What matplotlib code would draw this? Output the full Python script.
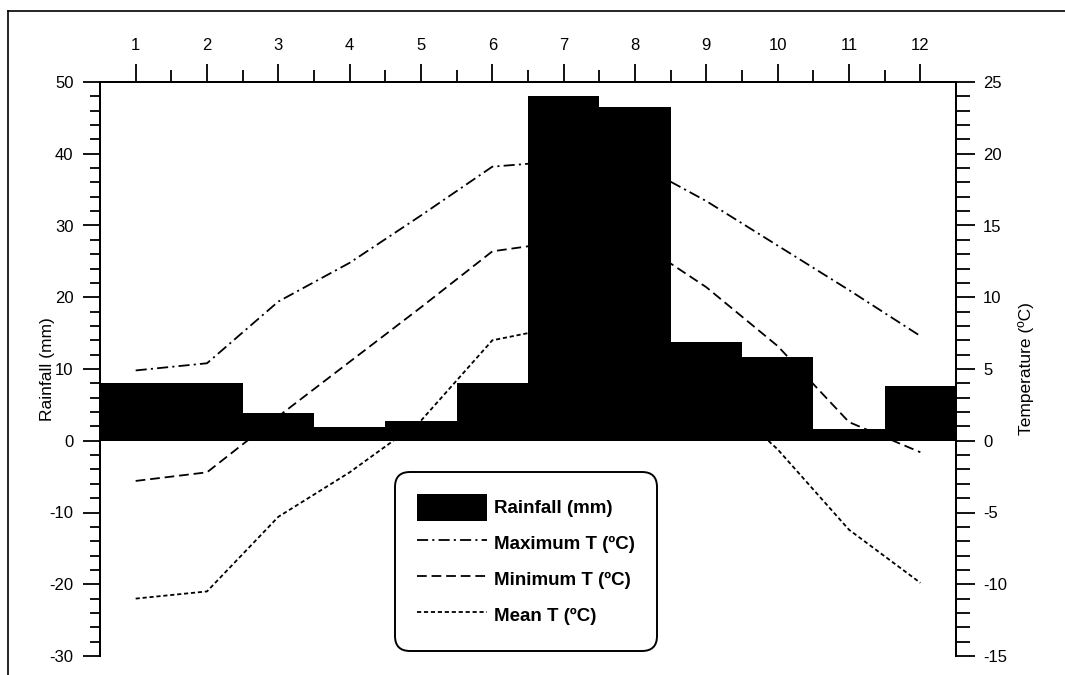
import matplotlib
matplotlib.use('Agg')
import matplotlib.pyplot as plt
from matplotlib.lines import Line2D
from matplotlib.ticker import MultipleLocator

plt.rcParams['font.family'] = ['Liberation Sans', 'DejaVu Sans']
plt.rcParams['lines.scale_dashes'] = False
plt.rcParams['axes.unicode_minus'] = False

# monthly values
months = list(range(1, 13))
rainfall = [8.0, 8.0, 3.8, 1.9, 2.8, 8.0, 48.1, 46.5, 13.8, 11.7, 1.7, 7.7]
t_max = [4.9, 5.4, 9.7, 12.4, 15.7, 19.1, 19.5, 19.4, 16.7, 13.6, 10.5, 7.3]
t_min = [-2.8, -2.2, 1.7, 5.5, 9.3, 13.2, 13.9, 14.0, 10.7, 6.6, 1.3, -0.8]
t_mean = [-11.0, -10.5, -5.3, -2.2, 1.4, 7.0, 8.0, 7.5, 4.0, -0.6, -6.2, -9.9]

W, H = 1065, 675
fig = plt.figure(figsize=(W / 100, H / 100), dpi=100)
ax = fig.add_axes([100 / W, 19 / H, 856 / W, 574 / H])

bars = ax.bar(months, rainfall, width=1.0, color='black', label='Rainfall (mm)')
ax.set_xlim(0.5, 12.5)
ax.set_ylim(-30, 50)
ax.xaxis.tick_top()
ax.set_xticks(months)
ax.set_xticks([m + 0.5 for m in months[:-1]], minor=True)
ax.yaxis.set_major_locator(MultipleLocator(10))
ax.yaxis.set_minor_locator(MultipleLocator(2))
ax.spines['bottom'].set_visible(False)
for s in ax.spines.values():
    s.set_linewidth(1.4)
ax.tick_params(axis='x', which='major', length=13, width=1.3, pad=8, labelsize=12)
ax.tick_params(axis='x', which='minor', length=9, width=1.3)
ax.tick_params(axis='y', which='major', length=12, width=1.3, pad=7, labelsize=12)
ax.tick_params(axis='y', which='minor', length=7, width=1.3)
ax.set_ylabel('Rainfall (mm)', fontsize=12.5)
ax.yaxis.set_label_coords(-0.053, 0.5)

ax2 = ax.twinx()
ax2.set_ylim(-15, 25)
l_max, = ax2.plot(months, t_max, color='black', lw=1.3,
                  linestyle=(0, (8, 3, 1.5, 3)), label='Maximum T (ºC)')
l_min, = ax2.plot(months, t_min, color='black', lw=1.3,
                  linestyle=(0, (7, 3.5)), label='Minimum T (ºC)')
l_mean, = ax2.plot(months, t_mean, color='black', lw=1.3,
                   linestyle=(0, (3, 2)), label='Mean T (ºC)')
ax2.yaxis.set_major_locator(MultipleLocator(5))
ax2.yaxis.set_minor_locator(MultipleLocator(1))
ax2.spines['bottom'].set_visible(False)
for s in ax2.spines.values():
    s.set_linewidth(1.4)
ax2.tick_params(axis='y', which='major', length=13.5, width=1.3, pad=6, labelsize=12)
ax2.tick_params(axis='y', which='minor', length=10, width=1.3)
ax2.set_ylabel('Temperature (ºC)', fontsize=12.5)
ax2.yaxis.set_label_coords(1.072, 0.5)

leg = ax2.legend([bars, l_max, l_min, l_mean],
                 ['Rainfall (mm)', 'Maximum T (ºC)', 'Minimum T (ºC)', 'Mean T (ºC)'],
                 loc='lower left', bbox_to_anchor=(0.345, 0.009), borderaxespad=0,
                 prop={'weight': 'bold', 'size': 13.5},
                 handlelength=3.73, handleheight=1.84, handletextpad=0.37,
                 labelspacing=0.48, borderpad=1.17, fancybox=True, framealpha=1)
frame = leg.get_frame()
frame.set_edgecolor('black')
frame.set_linewidth(1.4)
frame.set_boxstyle('round', pad=0, rounding_size=0.8)

# scanned page frame
fig.add_artist(Line2D([8 / W, 8 / W], [0, 1 - 11 / H], transform=fig.transFigure,
                      color='black', lw=1.2))
fig.add_artist(Line2D([8 / W, 1], [1 - 11 / H, 1 - 11 / H], transform=fig.transFigure,
                      color='black', lw=1.2))

fig.savefig('out.png', dpi=100)
